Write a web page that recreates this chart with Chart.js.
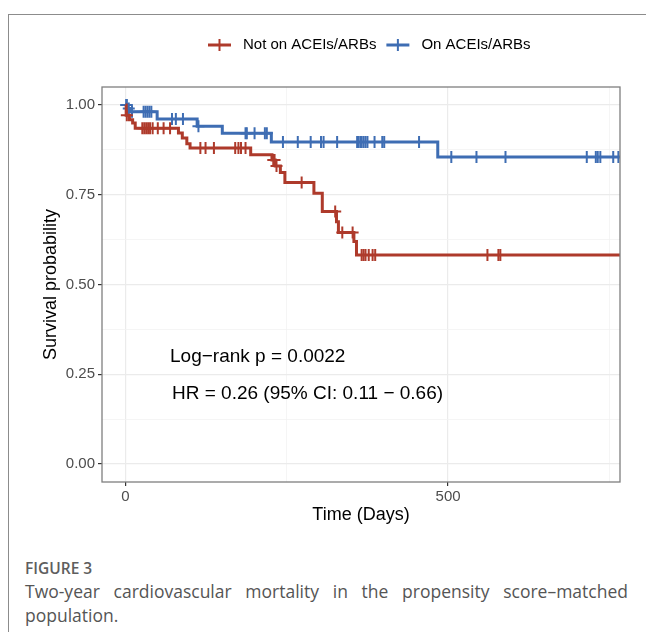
<!DOCTYPE html>
<html lang="en">
<head>
<meta charset="UTF-8">
<title>Survival</title>
<script src="https://cdn.jsdelivr.net/npm/chart.js"></script>
<style>
  body { margin: 0; background: #fff; width: 646px; height: 632px; overflow: hidden; position: relative; }
  #frame { position: absolute; left: 8px; top: 14px; width: 700px; height: 700px;
           border-top: 1.5px solid #8c8c8c; border-left: 1.5px solid #8c8c8c; }
  #chart-container { position: absolute; left: 0; top: 0; width: 646px; height: 540px; }
  #caption { position: absolute; left: 25px; top: 558px; width: 603px; font-family: "Open Sans", sans-serif; color: #555; }
  #caption .fig { font-size: 15.5px; line-height: 21px; color: #5e5e5e; font-weight: 600; }
  #caption .txt { font-size: 17.5px; line-height: 24px; text-align: justify; text-align-last: left; }
</style>
</head>
<body>
<div id="frame"></div>
<div id="chart-container"><canvas id="kmChart"></canvas></div>
<div id="caption">
  <div class="fig">FIGURE 3</div>
  <div class="txt">Two-year cardiovascular mortality in the propensity score–matched population.</div>
</div>
<script>
// series labels
const seriesLabels = ['Not on ACEIs/ARBs', 'On ACEIs/ARBs'];

// Not on ACEIs/ARBs: event times (days) and survival after each event
const redTimes = [0, 1, 6, 11, 15, 82, 88, 95, 100, 194, 227, 232, 240, 247, 292, 305, 327, 330, 354, 358];
const redSurv = [1.000, 0.971, 0.959, 0.950, 0.935, 0.922, 0.908, 0.892, 0.880, 0.861, 0.847, 0.830, 0.812, 0.784, 0.754, 0.703, 0.675, 0.645, 0.620, 0.582];
const redCensor = [2, 26, 29, 32, 35, 38, 42, 50, 59, 69, 116, 124, 137, 170, 175, 179, 186, 229, 231, 234, 273, 325, 336, 352, 366, 369, 372, 377, 383, 387, 561, 578, 581];

// On ACEIs/ARBs
const blueTimes = [0, 3, 7, 49, 111, 150, 226, 484];
const blueSurv = [1.000, 0.990, 0.981, 0.961, 0.941, 0.921, 0.897, 0.855];
const blueCensor = [1, 2, 5, 10, 28, 31, 34, 37, 40, 72, 78, 89, 113, 186, 188, 200, 216, 219, 244, 267, 287, 303, 307, 328, 359, 361, 364, 366, 369, 372, 375, 386, 398, 401, 455, 505, 544, 589, 715, 729, 732, 736, 756, 764];

const followUpEnd = 800;

// axes
const xMajor = [0, 500];
const xMinor = [250, 750];
const yMajor = [0, 0.25, 0.5, 0.75, 1];
const yMinor = [0.125, 0.375, 0.625, 0.875];
const xLimits = [0, 730];

const pvalText = 'Log\u2212rank p = 0.0022';
const hrText = 'HR = 0.26 (95% CI: 0.11 \u2212 0.66)';

const redColor = '#AE3A2B';
const blueColor = '#3E6DB3';
const helv = '"Liberation Sans", Arial, Helvetica, sans-serif';

function survAt(times, surv, t) {
    let s = surv[0];
    for (let i = 0; i < times.length; i++) {
        if (times[i] <= t) s = surv[i];
    }
    return s;
}

function stepPoints(times, surv) {
    const pts = times.map((t, i) => ({ x: t, y: surv[i] }));
    pts.push({ x: followUpEnd, y: surv[surv.length - 1] });
    return pts;
}

function censorPoints(times, surv, cens) {
    return cens.map(t => ({ x: t, y: survAt(times, surv, t) }));
}

const xPad = (xLimits[1] - xLimits[0]) * 0.05;

const extras = {
    id: 'extras',
    afterDraw(chart) {
        const { ctx, chartArea: a, scales: { x, y } } = chart;
        ctx.save();
        // panel border
        ctx.strokeStyle = '#7f7f7f';
        ctx.lineWidth = 1.3;
        ctx.strokeRect(a.left, a.top, a.right - a.left, a.bottom - a.top);

        // annotations
        ctx.fillStyle = '#000';
        ctx.font = '19px ' + helv;
        ctx.textBaseline = 'middle';
        ctx.textAlign = 'left';
        ctx.fillText(pvalText, x.getPixelForValue(69), y.getPixelForValue(0.30));
        ctx.fillText(hrText, x.getPixelForValue(72), y.getPixelForValue(0.197));

        // legend
        const colors = [redColor, blueColor];
        ctx.font = '15px ' + helv;
        let lx = 208;
        const ly = 45;
        seriesLabels.forEach((lab, i) => {
            ctx.strokeStyle = colors[i];
            ctx.lineWidth = 3;
            ctx.beginPath();
            ctx.moveTo(lx, ly); ctx.lineTo(lx + 23, ly);
            ctx.stroke();
            ctx.lineWidth = 2;
            ctx.beginPath();
            ctx.moveTo(lx + 11.5, ly - 6); ctx.lineTo(lx + 11.5, ly + 6);
            ctx.stroke();
            ctx.fillStyle = '#000';
            ctx.fillText(lab, lx + 35, ly);
            lx += 35 + ctx.measureText(lab).width + 10;
        });
        ctx.restore();
    }
};

const isMajor = (list, v) => list.some(m => Math.abs(m - v) < 1e-9);

new Chart(document.getElementById('kmChart'), {
    type: 'line',
    data: {
        datasets: [
            { label: seriesLabels[0], data: stepPoints(redTimes, redSurv), stepped: 'before',
              borderColor: redColor, borderWidth: 3, pointRadius: 0, fill: false },
            { label: seriesLabels[1], data: stepPoints(blueTimes, blueSurv), stepped: 'before',
              borderColor: blueColor, borderWidth: 3, pointRadius: 0, fill: false },
            { label: seriesLabels[0] + ' censored', data: censorPoints(redTimes, redSurv, redCensor), showLine: false,
              pointStyle: 'cross', pointRadius: 6, pointBorderWidth: 2, borderColor: redColor, backgroundColor: redColor },
            { label: seriesLabels[1] + ' censored', data: censorPoints(blueTimes, blueSurv, blueCensor), showLine: false,
              pointStyle: 'cross', pointRadius: 6, pointBorderWidth: 2, borderColor: blueColor, backgroundColor: blueColor }
        ]
    },
    options: {
        responsive: true,
        maintainAspectRatio: false,
        animation: false,
        layout: { padding: { top: 87, right: 26, left: 0, bottom: 0 } },
        plugins: { legend: { display: false }, tooltip: { enabled: false } },
        scales: {
            x: {
                type: 'linear',
                min: xLimits[0] - xPad,
                max: xLimits[1] + xPad,
                afterFit: s => { s.height = 58; },
                afterBuildTicks: s => { s.ticks = xMajor.concat(xMinor).map(v => ({ value: v })); },
                ticks: {
                    autoSkip: false, maxRotation: 0, padding: 2,
                    color: '#4d4d4d', font: { family: helv, size: 15 },
                    callback: v => isMajor(xMajor, v) ? String(v) : ''
                },
                grid: {
                    color: c => isMajor(xMajor, c.tick.value) ? '#ebebeb' : '#f3f3f3',
                    lineWidth: c => isMajor(xMajor, c.tick.value) ? 1.2 : 0.8,
                    tickColor: c => isMajor(xMajor, c.tick.value) ? '#333' : 'rgba(0,0,0,0)',
                    tickLength: 4, tickWidth: 1.2
                },
                border: { display: false },
                title: { display: true, text: 'Time (Days)', color: '#000',
                         font: { family: helv, size: 18 }, padding: { top: 0, bottom: 14 } }
            },
            y: {
                min: -0.05,
                max: 1.05,
                afterFit: s => { s.width = 102; },
                afterBuildTicks: s => { s.ticks = yMajor.concat(yMinor).map(v => ({ value: v })); },
                ticks: {
                    autoSkip: false, padding: 3,
                    color: '#4d4d4d', font: { family: helv, size: 15 },
                    callback: v => isMajor(yMajor, v) ? v.toFixed(2) : ''
                },
                grid: {
                    color: c => isMajor(yMajor, c.tick.value) ? '#ebebeb' : '#f3f3f3',
                    lineWidth: c => isMajor(yMajor, c.tick.value) ? 1.2 : 0.8,
                    tickColor: c => isMajor(yMajor, c.tick.value) ? '#333' : 'rgba(0,0,0,0)',
                    tickLength: 4, tickWidth: 1.2
                },
                border: { display: false },
                title: { display: true, text: 'Survival probability', color: '#000',
                         font: { family: helv, size: 18 }, padding: { top: 40, bottom: 0 } }
            }
        }
    },
    plugins: [extras]
});
</script>
</body>
</html>
